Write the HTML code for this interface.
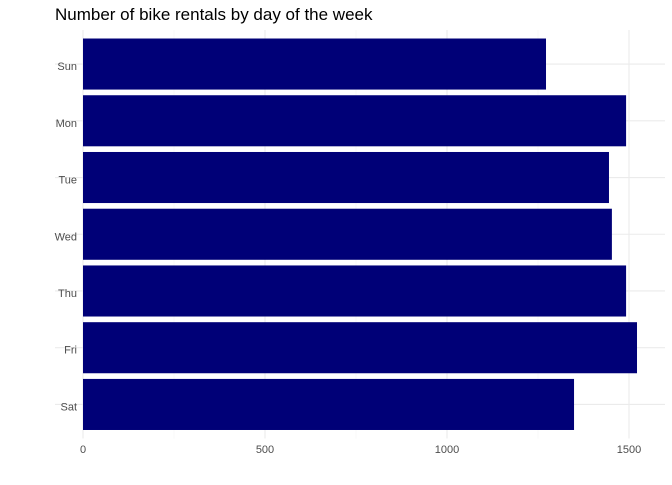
<!DOCTYPE html>
<html><head><meta charset="utf-8"><style>
body{margin:0;background:#fff;font-family:"Liberation Sans",Arial,sans-serif}
svg text{font-family:"Liberation Sans",Arial,sans-serif}
</style></head><body>
<svg id="chart" width="672" height="480" viewBox="0 0 672 480">
<rect width="672" height="480" fill="#fff"/>
<text x="55" y="20" font-size="17" fill="#000">Number of bike rentals by day of the week</text>
<g id="grid"></g><g id="bars"></g><g id="yticks"></g><g id="xticks"></g>
</svg>
<script>
const categories=["Sun","Mon","Tue","Wed","Thu","Fri","Sat"];
const rentals=[1272,1492,1445,1453,1492,1522,1349];
const xTicks=[0,500,1000,1500];
const xMinor=[250,750,1250];
const NS="http://www.w3.org/2000/svg";
const x0=83,pxPer=0.364,panelL=55,panelR=665,panelT=30,panelB=438.5;
const step=(panelB-panelT)/(categories.length-1+1.2);
function xs(v){return x0+v*pxPer;}
function ys(i){return panelT+0.6*step+i*step;}
function mk(tag,attrs,parent){const e=document.createElementNS(NS,tag);for(const k in attrs)e.setAttribute(k,attrs[k]);document.getElementById(parent).appendChild(e);return e;}
xMinor.forEach(v=>{const l=mk('line',{x1:xs(v),x2:xs(v),y1:panelT,y2:panelB,stroke:'#f3f3f3','stroke-width':0.6},'grid');

});
xTicks.forEach(v=>{const l=mk('line',{x1:xs(v),x2:xs(v),y1:panelT,y2:panelB,stroke:'#ebebeb','stroke-width':1.1},'grid');


const t=mk('text',{x:xs(v),y:453,'font-size':11,fill:'#4d4d4d','text-anchor':'middle'},'xticks');t.textContent=v;

});
categories.forEach((c,i)=>{const y=ys(i);
const g=mk('line',{x1:panelL,x2:panelR,y1:y,y2:y,stroke:'#ebebeb','stroke-width':1.1},'grid');


const h=step*0.9;
const r=mk('rect',{x:xs(0),y:y-h/2,width:xs(rentals[i])-xs(0),height:h,fill:'#000077'},'bars');


const t=mk('text',{x:77,y:y+6,'font-size':11,fill:'#4d4d4d','text-anchor':'end'},'yticks');t.textContent=c;

});
</script>
</body></html>
